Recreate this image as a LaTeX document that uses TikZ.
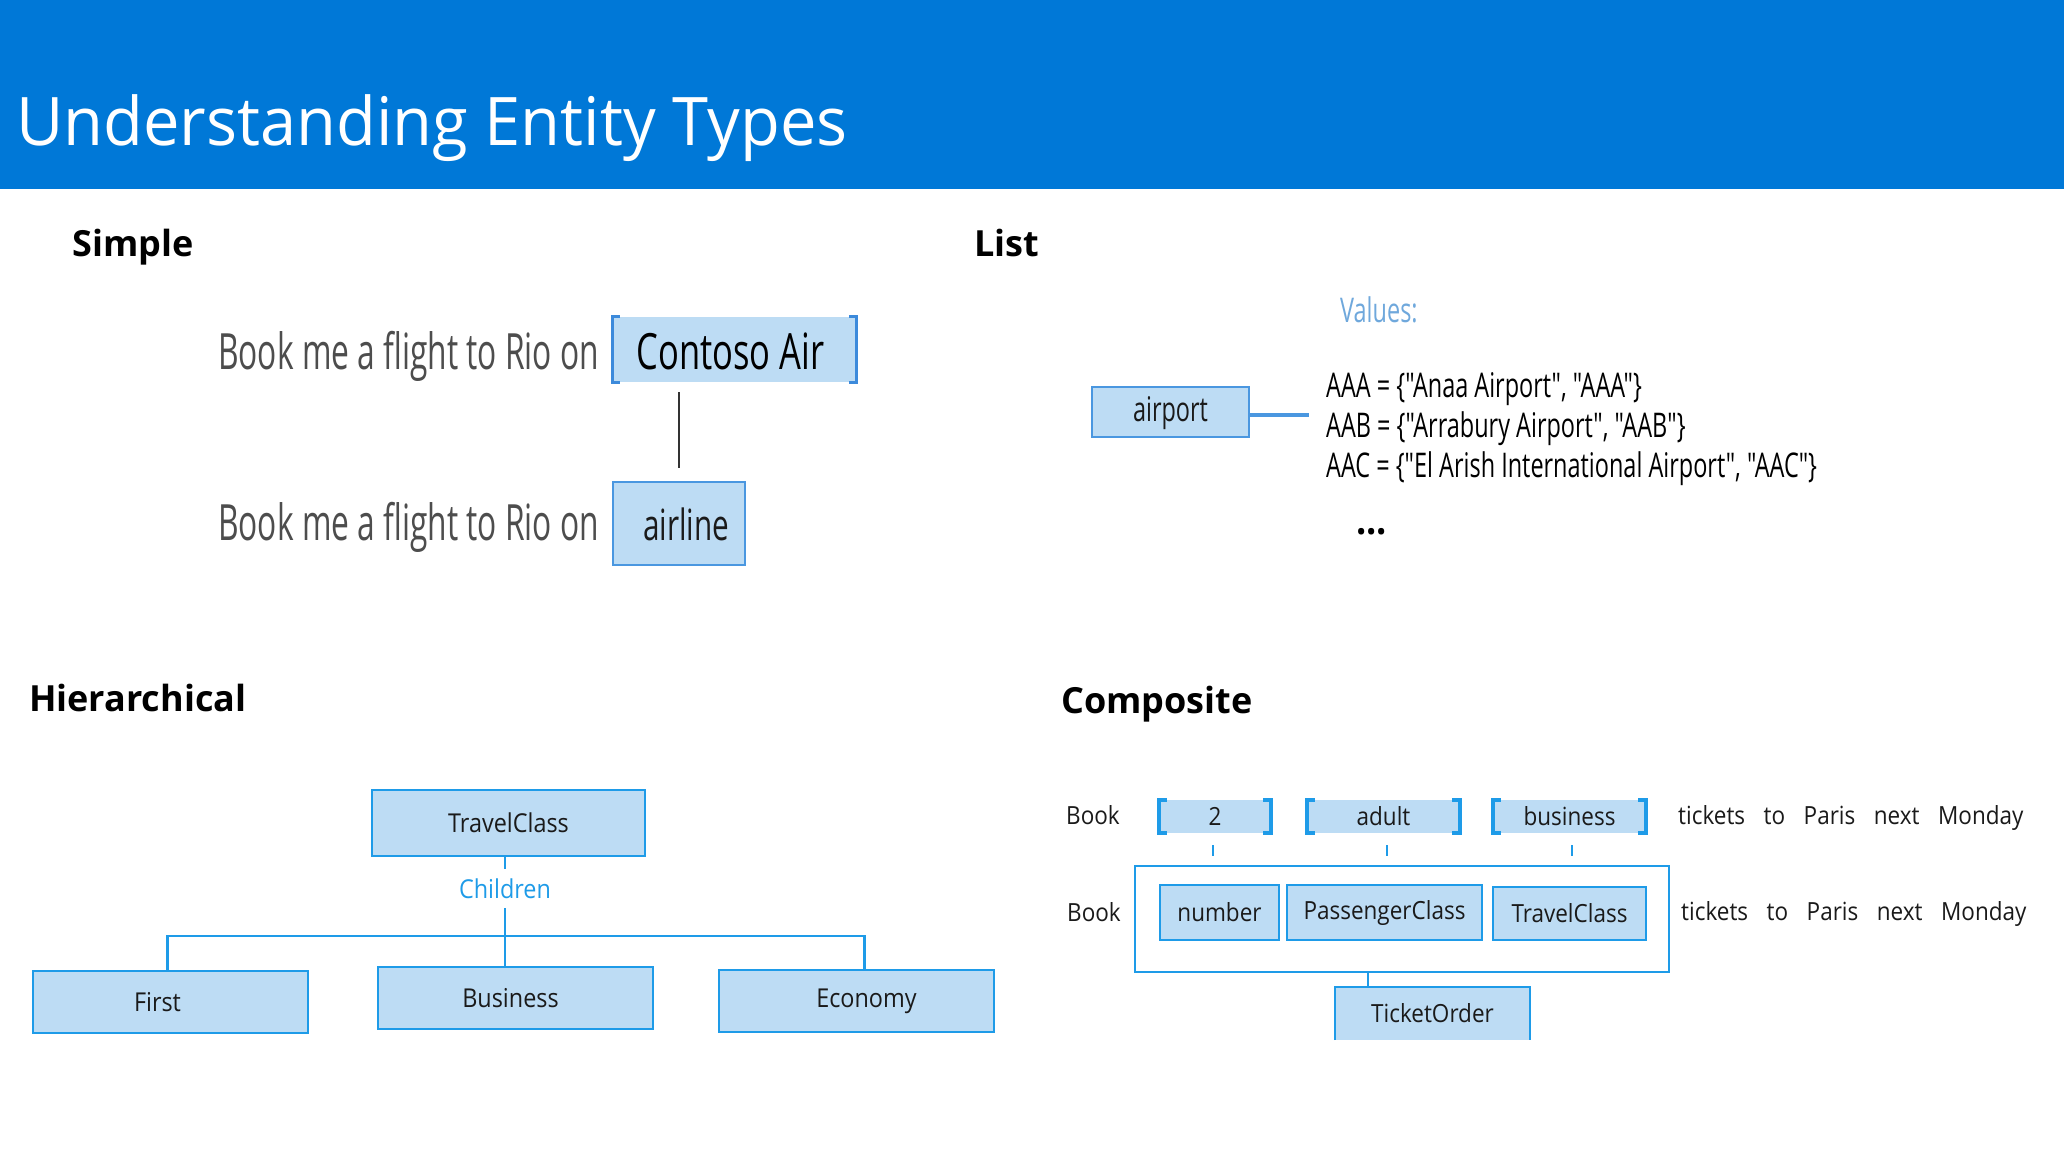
\documentclass[tikz,border=0pt]{standalone}
\usepackage{fontspec}
\setmainfont{Open Sans}
\newfontfamily\condf[FakeStretch=0.69]{Open Sans}
\newfontfamily\simf[FakeStretch=0.635]{Open Sans}
\newfontfamily\midf[FakeStretch=0.9]{Open Sans}
\newfontfamily\titlef[FakeStretch=0.97]{Open Sans}
\newcommand\fsz[1]{\fontsize{#1}{#1}\selectfont}
\definecolor{hdr}{HTML}{0078D7}
\definecolor{lb}{HTML}{BDDCF4}
\definecolor{sbord}{HTML}{4A97E0}
\definecolor{brk}{HTML}{3C8ADB}
\definecolor{hblue}{HTML}{1E9BE8}
\definecolor{valc}{HTML}{6FA8DC}
\definecolor{grayt}{HTML}{4D4D4D}
\definecolor{txt}{HTML}{1A1A1A}
\newcommand\drawbrackets[3]{%
  \draw[#2] ([xshift=#3]#1.north west) -- (#1.north west) -- (#1.south west) -- ([xshift=#3]#1.south west);
  \draw[#2] ([xshift=-#3]#1.north east) -- (#1.north east) -- (#1.south east) -- ([xshift=-#3]#1.south east);}
\begin{document}
\begin{tikzpicture}[x=1pt,y=-1pt,
  head/.style={anchor=base west, inner sep=0, text=black, font=\bfseries\fsz{36}},
  simtext/.style={anchor=base west, inner sep=0, text=grayt, font=\simf\fsz{50}},
  listtext/.style={anchor=base west, inner sep=0, text=black, font=\condf\fsz{34}},
  fbox/.style={fill=lb, inner sep=0, anchor=base},
  hbox/.style={draw=hblue, fill=lb, line width=2.5pt, inner sep=0, text=txt, font=\midf\fsz{26}},
  cbox/.style={draw=hblue, fill=lb, line width=2.5pt, inner sep=0, text=txt, font=\midf\fsz{25}},
  bbox/.style={fill=lb, inner sep=0, text=txt, font=\midf\fsz{25}},
  ctext/.style={anchor=base west, inner sep=0, text=txt, font=\midf\fsz{25}},
  hline/.style={draw=hblue, line width=2.5pt},
  bracketline/.style={draw=hblue, line width=4pt},
]
\useasboundingbox (0,0) rectangle (2064,1159);
\fill[white] (0,0) rectangle (2064,1159);
\fill[hdr] (0,0) rectangle (2064,189);
\node[anchor=base west, inner sep=0, text=white, font=\titlef\fsz{67}] (title) at (16,145) {Understanding Entity Types};

% headings
\node[head] (hsimple) at (72,256) {Simple};
\node[head] (hlist) at (974,256) {List};
\node[head] (hhier) at (29,711) {Hierarchical};
\node[head] (hcomp) at (1061,713) {Composite};

% ---------- Simple ----------
\node[simtext] (s1) at (218,369) {Book me a flight to Rio on};
\node[fbox, minimum width=243pt, text height=52pt, text depth=13pt, text=black, font=\condf\fsz{50}] (contoso) at (734.5,369) {\hspace*{-8pt}Contoso Air};
\drawbrackets{contoso}{draw=brk, line width=3pt}{7pt}
\node[simtext] (s2) at (218,540) {Book me a flight to Rio on};
\node[fbox, draw=sbord, line width=2.5pt, minimum width=132pt, text height=58pt, text depth=25pt, text=txt, font=\condf\fsz{43}] (airline) at (679,540) {\hspace*{14pt}airline};
\draw[draw=black!80, line width=2pt] ([yshift=13pt]airline.north) -- ([yshift=-10pt]airline.north |- contoso.south);

% ---------- List ----------
\node[anchor=base west, inner sep=0, text=valc, font=\condf\fsz{34}] (values) at (1340,322) {Values:};
\node[fbox, draw=sbord, line width=2.5pt, minimum width=157pt, text height=34pt, text depth=16pt, text=txt, font=\condf\fsz{34}] (airport) at (1170.5,421) {airport};
\coordinate (vl) at (1309,415);
\draw[draw=sbord, line width=4pt] (airport.east |- vl) -- (vl);
\node[listtext] (aaa) at (1326,397) {AAA = \{"Anaa Airport", "AAA"\}};
\node[listtext] (aab) at (1326,437) {AAB = \{"Arrabury Airport", "AAB"\}};
\node[listtext] (aac) at (1326,477) {AAC = \{"El Arish International Airport", "AAC"\}};
\node[listtext, font=\midf\bfseries\fsz{40}] (dots) at (1356,534) {...};

% ---------- Hierarchical ----------
\node[hbox, minimum width=273pt, minimum height=66pt] (tc) at (508.5,823) {TravelClass};
\node[inner sep=0, minimum height=39pt, text=hblue, font=\midf\fsz{26}] (children) at (505,888.5) {Children};
\node[hbox, minimum width=275pt, minimum height=62pt] (first) at (170.5,1002) {\hspace*{-26pt}First};
\node[hbox, minimum width=275pt, minimum height=62pt] (bus) at (515.5,998) {\hspace*{-10pt}Business};
\node[hbox, minimum width=275pt, minimum height=62pt] (eco) at (856.5,1001) {\hspace*{20pt}Economy};
\coordinate (hj) at (505,936);
\draw[hline] (tc.south -| children) -- (children.north);
\draw[hline] (children.south) -- (children.south |- bus.north);
\draw[hline] ([xshift=-3pt]first.north) |- (hj) -| ([xshift=8pt]eco.north);

% ---------- Composite ----------
\node[ctext] (book1) at (1066,824) {Book};
\node[bbox, minimum width=112pt, minimum height=33pt] (two) at (1215,816.5) {2};
\node[bbox, minimum width=153pt, minimum height=33pt] (adult) at (1383.5,816.5) {adult};
\node[bbox, minimum width=153pt, minimum height=33pt] (business) at (1569.5,816.5) {business};
\drawbrackets{two}{bracketline}{8pt}
\drawbrackets{adult}{bracketline}{8pt}
\drawbrackets{business}{bracketline}{8pt}
\node[ctext] (tail1) at (1678,824) {\spaceskip=18.5pt tickets to Paris next Monday};

\node[draw=hblue, line width=2.5pt, fill=white, minimum width=534pt, minimum height=106pt, inner sep=0] (outer) at (1402,919) {};
\node[cbox, minimum width=119pt, minimum height=55pt] (number) at (1219.5,912.5) {number};
\node[cbox, minimum width=195pt, minimum height=55pt] (pclass) at (1384.5,912.5) {PassengerClass};
\node[cbox, minimum width=153pt, minimum height=53pt] (tclass) at (1569.5,913.5) {TravelClass};
\node[ctext] (book2) at (1067,921) {Book};
\node[ctext] (tail2) at (1681,920) {\spaceskip=18.5pt tickets to Paris next Monday};

\draw[draw=hblue, line width=2pt] ([xshift=-2pt,yshift=-12pt]two.south) -- ([xshift=-2pt,yshift=-23pt]two.south);
\draw[draw=hblue, line width=2pt] ([xshift=3.5pt,yshift=-12pt]adult.south) -- ([xshift=3.5pt,yshift=-23pt]adult.south);
\draw[draw=hblue, line width=2pt] ([xshift=2.5pt,yshift=-12pt]business.south) -- ([xshift=2.5pt,yshift=-23pt]business.south);

\node[fill=lb, inner sep=0, minimum width=195pt, minimum height=53pt, text=txt, font=\midf\fsz{25}] (torder) at (1432.5,1013.5) {TicketOrder};
\draw[draw=hblue, line width=2.5pt] (torder.south west) -- (torder.north west) -- (torder.north east) -- (torder.south east);
\draw[hline] ([xshift=-64.5pt]torder.north) -- ([xshift=-64.5pt]torder.north |- outer.south);
\end{tikzpicture}
\end{document}
